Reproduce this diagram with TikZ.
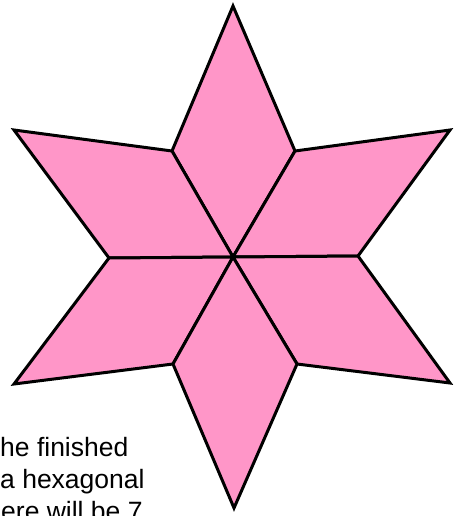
\documentclass[tikz,border=0pt]{standalone}
\usepackage{fontspec}
\setmainfont{Liberation Sans}
\usepackage{xcolor}
\usetikzlibrary{positioning}
\definecolor{petalpink}{RGB}{255,150,200}
\tikzset{
  petal/.style = {draw, fill=petalpink, line width=3pt},
  note/.style  = {anchor=base west, inner sep=0pt,
                  font=\fontsize{26.5}{32}\selectfont},
}

\begin{document}
\begin{tikzpicture}[x=1pt,y=-1pt]
\useasboundingbox (0,0) rectangle (454,516);
\clip (0,0) rectangle (454,516);
% ---------- star vertices ----------
\coordinate (C)   at (233,257);
\coordinate (T)   at (233,6);
\coordinate (B)   at (234,508);
\coordinate (TL)  at (172,151);
\coordinate (TR)  at (295,151);
\coordinate (L)   at (109,258);
\coordinate (R)   at (358,256);
\coordinate (BL)  at (173,364);
\coordinate (BR)  at (297,364);
\coordinate (ULt) at (14,130);
\coordinate (URt) at (450,130);
\coordinate (LLt) at (14,384);
\coordinate (LRt) at (450,383);
% ---------- six rhombi ----------
\draw[petal] (C) -- (TL) -- (T) -- (TR) -- cycle;
\draw[petal] (C) -- (L) -- (ULt) -- (TL) -- cycle;
\draw[petal] (C) -- (TR) -- (URt) -- (R) -- cycle;
\draw[petal] (C) -- (L) -- (LLt) -- (BL) -- cycle;
\draw[petal] (C) -- (R) -- (LRt) -- (BR) -- cycle;
\draw[petal] (C) -- (BL) -- (B) -- (BR) -- cycle;
% ---------- cut-off text ----------
\node[note] (txtA) at (0,456) {he finished};
\node[note] (txtB) at (0,488) {a hexagonal};
\node[note] (txtC) at (1,520) {ere will be 7};
\end{tikzpicture}
\end{document}
